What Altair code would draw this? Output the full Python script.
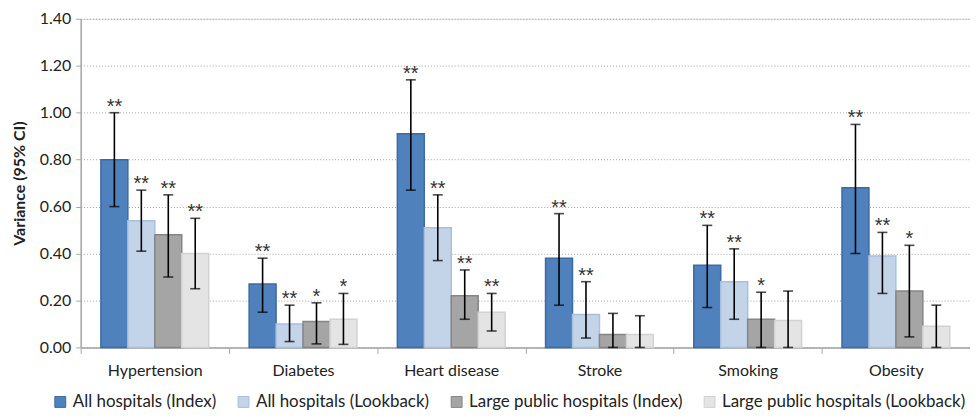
import altair as alt
import pandas as pd

categories = ["Hypertension", "Diabetes", "Heart disease", "Stroke", "Smoking", "Obesity"]
series = ["All hospitals (Index)", "All hospitals (Lookback)",
          "Large public hospitals (Index)", "Large public hospitals (Lookback)"]

val_all_index = [0.80, 0.27, 0.91, 0.38, 0.35, 0.68]
val_all_lookback = [0.54, 0.10, 0.51, 0.14, 0.28, 0.39]
val_large_index = [0.48, 0.11, 0.22, 0.055, 0.12, 0.24]
val_large_lookback = [0.40, 0.12, 0.15, 0.055, 0.115, 0.09]

lo_all_index = [0.60, 0.15, 0.67, 0.18, 0.17, 0.40]
lo_all_lookback = [0.41, 0.025, 0.37, 0.04, 0.12, 0.23]
lo_large_index = [0.30, 0.015, 0.12, 0.0, 0.0, 0.045]
lo_large_lookback = [0.25, 0.013, 0.07, 0.0, 0.0, 0.0]

hi_all_index = [1.00, 0.38, 1.14, 0.57, 0.52, 0.95]
hi_all_lookback = [0.67, 0.18, 0.65, 0.28, 0.42, 0.49]
hi_large_index = [0.65, 0.19, 0.33, 0.145, 0.235, 0.435]
hi_large_lookback = [0.55, 0.23, 0.23, 0.135, 0.24, 0.18]

star_all_index = ["**", "**", "**", "**", "**", "**"]
star_all_lookback = ["**", "**", "**", "**", "**", "**"]
star_large_index = ["**", "*", "**", "", "*", "*"]
star_large_lookback = ["**", "*", "**", "", "", ""]

fills = ["#4F81BD", "#C3D3E8", "#A5A5A5", "#E4E4E4"]
strokes = ["#3C6AA3", "#A9C0DD", "#858585", "#D2D2D2"]

vals = [val_all_index, val_all_lookback, val_large_index, val_large_lookback]
los = [lo_all_index, lo_all_lookback, lo_large_index, lo_large_lookback]
his = [hi_all_index, hi_all_lookback, hi_large_index, hi_large_lookback]
stars = [star_all_index, star_all_lookback, star_large_index, star_large_lookback]

rows = []
for si, s in enumerate(series):
    for ci, c in enumerate(categories):
        rows.append({"category": c, "series": s, "value": vals[si][ci],
                     "lo": los[si][ci], "hi": his[si][ci], "star": stars[si][ci]})
df = pd.DataFrame(rows)

FONT = "Lato"

x_enc = alt.X("category:N", sort=categories, title=None,
              scale=alt.Scale(paddingInner=0, paddingOuter=0),
              axis=alt.Axis(labelAngle=0, labelFontSize=16, labelColor="#222222",
                            labelFont=FONT, labelPadding=9, tickBand="extent",
                            tickSize=6, tickColor="#A6A6A6", domainColor="#A6A6A6",
                            domainWidth=1.5, grid=False))
xo_enc = alt.XOffset("series:N", sort=series,
                     scale=alt.Scale(paddingInner=0, paddingOuter=0.75))

legend_cfg = dict(title=None, orient="none", direction="horizontal",
                  columns=4, legendX=-29, legendY=376,
                  symbolType="square", symbolSize=120, symbolStrokeWidth=1,
                  labelFont=FONT, labelFontSize=17, labelColor="#222222",
                  labelLimit=0, columnPadding=18, labelOffset=4)

base = alt.Chart(df)

bars = base.mark_bar(strokeWidth=1.5).encode(
    x=x_enc,
    xOffset=xo_enc,
    y=alt.Y("value:Q", title="Variance (95% CI)",
            scale=alt.Scale(domain=[0, 1.4], nice=False),
            axis=alt.Axis(values=[0, 0.2, 0.4, 0.6, 0.8, 1.0, 1.2, 1.4], format=".2f",
                          labelFontSize=16, labelColor="#222222", labelFont=FONT,
                          labelPadding=5, tickSize=5, tickColor="#A6A6A6",
                          domainColor="#A6A6A6", domainWidth=1.5,
                          grid=True, gridColor="#A0A0A0", gridDash=[1, 2], gridWidth=1,
                          titleFont=FONT, titleFontSize=16, titleFontWeight="bold",
                          titleColor="#222222", titlePadding=12)),
    color=alt.Color("series:N", sort=series,
                    scale=alt.Scale(domain=series, range=fills),
                    legend=alt.Legend(**legend_cfg)),
    stroke=alt.Stroke("series:N", sort=series,
                      scale=alt.Scale(domain=series, range=strokes),
                      legend=alt.Legend(**legend_cfg)),
)

rules = base.mark_rule(color="black", strokeWidth=1.6).encode(
    x=alt.X("category:N", sort=categories),
    xOffset=alt.XOffset("series:N", sort=series),
    y="lo:Q", y2="hi:Q")

cap_hi = base.mark_tick(color="black", size=10, thickness=1.6, orient="horizontal").encode(
    x=alt.X("category:N", sort=categories),
    xOffset=alt.XOffset("series:N", sort=series),
    y="hi:Q")

cap_lo = base.mark_tick(color="black", size=10, thickness=1.6, orient="horizontal").encode(
    x=alt.X("category:N", sort=categories),
    xOffset=alt.XOffset("series:N", sort=series),
    y="lo:Q")

labels = base.mark_text(font="Liberation Sans", fontSize=20, color="#333333",
                        baseline="alphabetic", dy=0).encode(
    x=alt.X("category:N", sort=categories),
    xOffset=alt.XOffset("series:N", sort=series),
    y="hi:Q", text="star:N")

chart = alt.layer(bars, rules, cap_hi, cap_lo, labels).properties(
    width=893, height=330,
    autosize=alt.AutoSizeParams(type="none"),
    padding={"left": 73, "top": 10, "right": 0, "bottom": 64},
).configure_view(stroke=None).configure(background="white")

chart.save("out.html", embed_options={"renderer": "svg", "actions": False})
